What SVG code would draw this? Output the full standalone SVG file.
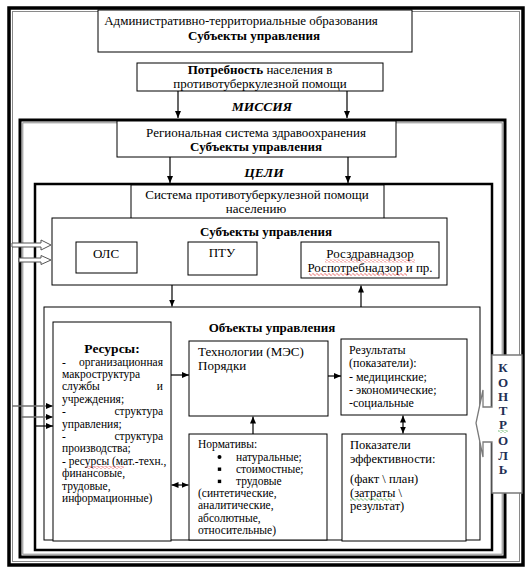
<svg xmlns="http://www.w3.org/2000/svg" width="531" height="570" viewBox="0 0 531 570">
<defs>
<style>
.t{font-family:"Liberation Serif","Times New Roman",serif;fill:#000}
.b{font-weight:bold}
.bi{font-weight:bold;font-style:italic}
.c{text-anchor:middle}
.e{text-anchor:end}
.f13{font-size:13px}
.f12{font-size:12px}
.f115{font-size:11.5px}
.box{fill:#fff;stroke:#000;stroke-width:1}
.ln{stroke:#000;stroke-width:1.2;fill:none}
.gl{stroke:#707070;stroke-width:1.5;fill:none}
.kt{font-family:"Liberation Serif","Times New Roman",serif;font-weight:bold;font-size:13px;fill:#1f2f55;text-anchor:middle}
</style>
<marker id="ah" viewBox="0 0 7 7" refX="7" refY="3.5" markerWidth="7" markerHeight="7" markerUnits="userSpaceOnUse" orient="auto-start-reverse"><path d="M0,0.5 L7,3.5 L0,6.5 z" fill="#000"/></marker>
<pattern id="wr" width="4" height="3" patternUnits="userSpaceOnUse"><path d="M0,1.5 L1,0.5 L3,2.5 L4,1.5" stroke="#e02020" stroke-width="0.7" fill="none"/></pattern>
<pattern id="wg" width="4" height="3" patternUnits="userSpaceOnUse"><path d="M0,1.5 L1,0.5 L3,2.5 L4,1.5" stroke="#2a9a2a" stroke-width="0.7" fill="none"/></pattern>
</defs>
<rect width="531" height="570" fill="#fff"/>

<g id="frames">
<rect x="9" y="8" width="514" height="557" fill="none" stroke="#000" stroke-width="3.5"/>
<rect x="12.5" y="11.5" width="507" height="550" fill="none" stroke="#8a8a8a" stroke-width="1"/>
<rect x="20" y="120" width="485" height="437" fill="none" stroke="#000" stroke-width="3"/>
<rect x="22.8" y="122.8" width="479.4" height="431.4" fill="none" stroke="#8a8a8a" stroke-width="1"/>
<rect x="35" y="184" width="457" height="366" fill="none" stroke="#000" stroke-width="2.5"/>
</g>

<g id="n-admin">
<rect class="box" x="98" y="10" width="314" height="42"/>
<text class="t f13 c" x="241" y="25">Административно-территориальные образования</text>
<text class="t f13 b c" x="254" y="40">Субъекты управления</text>
</g>

<g id="n-need">
<rect class="box" x="137" y="63" width="246" height="28"/>
<text class="t f13 c" x="260" y="74"><tspan class="b">Потребность</tspan> населения в</text>
<text class="t f13 c" x="260" y="88">противотуберкулезной помощи</text>
</g>

<text id="mission" class="t bi c" font-size="13.5" x="262" y="111">МИССИЯ</text>

<g id="n-region">
<rect class="box" x="117" y="121" width="279" height="36"/>
<text class="t f13 c" x="256" y="137">Региональная система здравоохранения</text>
<text class="t f13 b c" x="256" y="151">Субъекты управления</text>
</g>

<text id="goals" class="t bi c" font-size="13.5" x="264" y="177">ЦЕЛИ</text>

<g id="n-system">
<rect class="box" x="131" y="185" width="253" height="40"/>
<text class="t f13 c" x="257" y="199">Система противотуберкулезной помощи</text>
<text class="t f13 c" x="256" y="213">населению</text>
</g>

<g id="n-subjects">
<rect class="box" x="52" y="218" width="395" height="67"/>
<text class="t f13 b c" x="266" y="236">Субъекты управления</text>
</g>

<g id="n-ols">
<rect class="box" x="76" y="242" width="61" height="31"/>
<text class="t f13 c" x="106" y="258">ОЛС</text>
</g>

<g id="n-ptu">
<rect class="box" x="188" y="242" width="69" height="33"/>
<text class="t f13 c" x="222" y="257">ПТУ</text>
</g>

<g id="n-ros">
<rect class="box" x="301" y="242" width="138" height="36"/>
<text class="t f13 c" x="370" y="258">Росздравнадзор</text>
<text class="t f13 c" x="370" y="271.5">Роспотребнадзор и пр.</text>
<rect x="325" y="259.5" width="90" height="3" fill="url(#wr)"/>
<rect x="309" y="273" width="98" height="3" fill="url(#wr)"/>
</g>

<g id="n-objects">
<rect class="box" x="44" y="307" width="436" height="233"/>
<text class="t f13 b c" x="272" y="332">Объекты управления</text>
</g>

<g id="n-resources">
<rect class="box" x="53" y="322" width="118" height="219"/>
<text class="t b c" font-size="13.5" x="112" y="353">Ресурсы:</text>
<g class="t f115">
<text x="62" y="365.5">-</text><text class="e" x="163" y="365.5">организационная</text>
<text x="62" y="377.9">макроструктура</text>
<text x="62" y="390.3">службы</text><text class="e" x="163" y="390.3">и</text>
<text x="62" y="402.7">учреждения;</text>
<text x="62" y="415.1">-</text><text class="e" x="163" y="415.1">структура</text>
<text x="62" y="427.5">управления;</text>
<text x="62" y="439.9">-</text><text class="e" x="163" y="439.9">структура</text>
<text x="62" y="452.3">производства;</text>
<text x="62" y="464.7">- ресурсы (мат.-техн.,</text>
<text x="62" y="477.1">финансовые,</text>
<text x="62" y="489.5">трудовые,</text>
<text x="62" y="501.9">информационные)</text>
</g>
<rect x="86" y="466" width="38" height="3" fill="url(#wr)"/>
</g>

<g id="n-tech">
<rect class="box" x="189" y="341" width="139" height="75"/>
<text class="t f13" x="198" y="356">Технологии (МЭС)</text>
<text class="t f13" x="198" y="370">Порядки</text>
</g>

<g id="n-results">
<rect class="box" x="341" y="339" width="126" height="76"/>
<g class="t f12">
<text x="349" y="354">Результаты</text>
<text x="349" y="367.3">(показатели):</text>
<text x="349" y="380.5">- медицинские;</text>
<text x="349" y="393.7">- экономические;</text>
<text x="349" y="407">-социальные</text>
</g>
</g>

<g id="n-norms">
<rect class="box" x="189" y="434" width="138" height="106"/>
<g class="t f115">
<text x="198" y="448.3">Нормативы:</text>
<text x="236" y="460.5">натуральные;</text>
<text x="236" y="472.7">стоимостные;</text>
<text x="236" y="484.9">трудовые</text>
<text x="198" y="497.1">(синтетические,</text>
<text x="198" y="509.3">аналитические,</text>
<text x="198" y="521.5">абсолютные,</text>
<text x="198" y="533.7">относительные)</text>
</g>
<circle cx="219.5" cy="457" r="2" fill="#000"/>
<rect x="217.8" y="467.5" width="3.4" height="3.4" fill="#000"/>
<rect x="217.8" y="479.7" width="3.4" height="3.4" fill="#000"/>
</g>

<g id="n-indicators">
<rect class="box" x="342" y="434" width="124" height="107"/>
<g class="t" font-size="12.5">
<text x="350" y="449">Показатели</text>
<text x="350" y="463.3">эффективности:</text>
<text x="350" y="483.3">(факт \ план)</text>
<text x="350" y="496.7">(затраты \</text>
<text x="350" y="510">результат)</text>
</g>
<rect x="350" y="498" width="42" height="3" fill="url(#wg)"/>
</g>

<g id="n-control">
<path d="M492,355 H522 V493 H492 V442 H483 V457 L476,423 L483,390 V407 H492 Z" fill="#fff" stroke="#7a7a7a" stroke-width="1.3"/>
<text class="kt" x="503" y="372">К</text>
<text class="kt" x="503" y="386.5">О</text>
<text class="kt" x="503" y="400.5">Н</text>
<text class="kt" x="503" y="414.5">Т</text>
<text class="kt" x="503" y="428.5">Р</text>
<text class="kt" x="503" y="445">О</text>
<text class="kt" x="503" y="459.5">Л</text>
<text class="kt" x="503" y="473.5">Ь</text>
<rect x="498" y="430" width="10" height="3" fill="url(#wg)"/>
</g>

<g id="connectors">
<line class="ln" x1="178" y1="91" x2="178" y2="118" marker-end="url(#ah)"/>
<line class="ln" x1="347" y1="91" x2="347" y2="118" marker-end="url(#ah)"/>
<line class="ln" x1="170" y1="157" x2="170" y2="183" marker-end="url(#ah)"/>
<line class="ln" x1="348" y1="157" x2="348" y2="183" marker-end="url(#ah)"/>
<line class="ln" x1="172" y1="285" x2="172" y2="306.5" marker-end="url(#ah)"/>
<line class="ln" x1="361" y1="307" x2="361" y2="285.5" marker-end="url(#ah)"/>
<line class="ln" x1="171" y1="375" x2="189" y2="375" marker-end="url(#ah)"/>
<line class="ln" x1="328" y1="376" x2="341" y2="376" marker-end="url(#ah)"/>
<line class="ln" x1="253" y1="434" x2="253" y2="416.5" marker-end="url(#ah)"/>
<line class="ln" x1="403" y1="415.5" x2="403" y2="433.5" marker-start="url(#ah)" marker-end="url(#ah)"/>
<line class="ln" x1="171.5" y1="485" x2="188.5" y2="485" marker-start="url(#ah)" marker-end="url(#ah)"/>
<line class="gl" x1="12" y1="406" x2="53" y2="406" marker-end="url(#ah)"/>
<line class="gl" x1="21" y1="417" x2="53" y2="417" marker-end="url(#ah)"/>
<line class="ln" x1="36" y1="426" x2="53" y2="426" marker-end="url(#ah)"/>
<path d="M12,243 H41 V240 L51,245 L41,250 V247 H12 Z" fill="#fff" stroke="#555" stroke-width="1"/>
<path d="M19,258 H41 V255.5 L51,260 L41,264.5 V262 H19 Z" fill="#fff" stroke="#555" stroke-width="1"/>
</g>
</svg>
